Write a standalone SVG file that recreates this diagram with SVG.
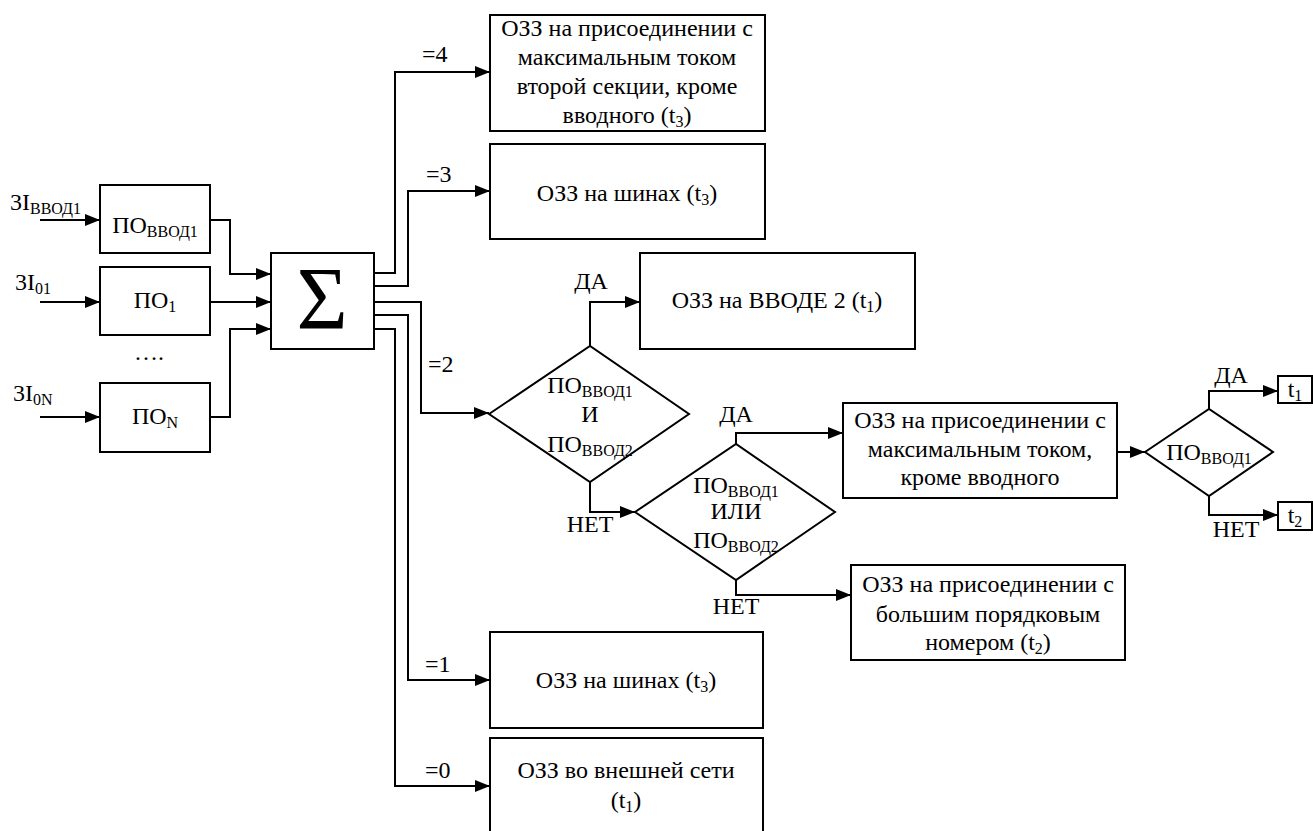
<svg xmlns="http://www.w3.org/2000/svg" width="1313" height="831" viewBox="0 0 1313 831">
<style>
.box{fill:#fff;stroke:#000;stroke-width:2}
.ln{fill:none;stroke:#000;stroke-width:2;marker-end:url(#ah)}
</style>
<defs>
<marker id="ah" markerUnits="userSpaceOnUse" markerWidth="16" markerHeight="12" refX="15" refY="6" orient="auto">
<path d="M0,0 L15,6 L0,12 z" fill="#000"/>
</marker>
</defs>
<rect width="1313" height="831" fill="#fff"/>
<g id="connectors">
<path class="ln" d="M40 220 H100"/>
<path class="ln" d="M40 302 H100"/>
<path class="ln" d="M40 417 H100"/>
<path class="ln" d="M210 220 H230 V274 H271"/>
<path class="ln" d="M210 302 H271"/>
<path class="ln" d="M210 417 H230 V329 H271"/>
<path class="ln" d="M374 273 H395 V72 H490"/>
<path class="ln" d="M374 286 H408 V191 H490"/>
<path class="ln" d="M374 302 H421 V413 H489"/>
<path class="ln" d="M374 315 H408 V680 H490"/>
<path class="ln" d="M374 329 H395 V786 H490"/>
<path class="ln" d="M590 346 V302 H640"/>
<path class="ln" d="M590 482 V512 H635"/>
<path class="ln" d="M736 444 V433 H843"/>
<path class="ln" d="M736 580 V595 H851"/>
<path class="ln" d="M1117 452 H1145"/>
<path class="ln" d="M1209 409 V391 H1278"/>
<path class="ln" d="M1209 496 V515 H1278"/>
<text style="font-family:'Liberation Serif',serif;font-size:24px" x="422" y="62">=4</text>
<text style="font-family:'Liberation Serif',serif;font-size:24px" x="426" y="182">=3</text>
<text style="font-family:'Liberation Serif',serif;font-size:24px" x="428" y="372">=2</text>
<text style="font-family:'Liberation Serif',serif;font-size:24px" x="425" y="672">=1</text>
<text style="font-family:'Liberation Serif',serif;font-size:24px" x="425" y="778">=0</text>
<text style="font-family:'Liberation Serif',serif;font-size:24px" text-anchor="middle" x="591" y="289">ДА</text>
<text style="font-family:'Liberation Serif',serif;font-size:24px" text-anchor="middle" x="590" y="532">НЕТ</text>
<text style="font-family:'Liberation Serif',serif;font-size:24px" text-anchor="middle" x="736" y="422">ДА</text>
<text style="font-family:'Liberation Serif',serif;font-size:24px" text-anchor="middle" x="736" y="614">НЕТ</text>
<text style="font-family:'Liberation Serif',serif;font-size:24px" text-anchor="middle" x="1231" y="383">ДА</text>
<text style="font-family:'Liberation Serif',serif;font-size:24px" text-anchor="middle" x="1236" y="537">НЕТ</text>
</g>
<g id="inputs">
<text style="font-family:'Liberation Serif',serif;font-size:24px" x="10" y="210">3I<tspan style="font-size:16px" dy="4">ВВОД1</tspan></text>
<text style="font-family:'Liberation Serif',serif;font-size:24px" x="15" y="290">3I<tspan style="font-size:16px" dy="4">01</tspan></text>
<text style="font-family:'Liberation Serif',serif;font-size:24px" x="13" y="401">3I<tspan style="font-size:16px" dy="4">0N</tspan></text>
<text style="font-family:'Liberation Serif',serif;font-size:24px" text-anchor="middle" x="149" y="360">….</text>
</g>
<g id="po-vvod1">
<rect class="box" x="100" y="185" width="110" height="68"/>
<text style="font-family:'Liberation Serif',serif;font-size:24px" text-anchor="middle" x="155" y="233">ПО<tspan style="font-size:16px" dy="4">ВВОД1</tspan></text>
</g>
<g id="po-1">
<rect class="box" x="100" y="267" width="110" height="68"/>
<text style="font-family:'Liberation Serif',serif;font-size:24px" text-anchor="middle" x="155" y="308">ПО<tspan style="font-size:16px" dy="4">1</tspan></text>
</g>
<g id="po-n">
<rect class="box" x="100" y="383" width="110" height="69"/>
<text style="font-family:'Liberation Serif',serif;font-size:24px" text-anchor="middle" x="155" y="424">ПО<tspan style="font-size:16px" dy="4">N</tspan></text>
</g>
<g id="sum">
<rect class="box" x="271" y="253" width="103" height="96"/>
<text style="font-family:'Liberation Serif',serif;font-size:88px" text-anchor="middle" x="322" y="328">Σ</text>
</g>
<g id="box-4">
<rect class="box" x="490" y="15" width="275" height="116"/>
<text style="font-family:'Liberation Serif',serif;font-size:24px" text-anchor="middle" x="627" y="36">ОЗЗ на присоединении с</text>
<text style="font-family:'Liberation Serif',serif;font-size:24px" text-anchor="middle" x="627" y="65">максимальным током</text>
<text style="font-family:'Liberation Serif',serif;font-size:24px" text-anchor="middle" x="627" y="94">второй секции, кроме</text>
<text style="font-family:'Liberation Serif',serif;font-size:24px" text-anchor="middle" x="627" y="123">вводного (t<tspan style="font-size:16px" dy="4">3</tspan><tspan dy="-4">)</tspan></text>
</g>
<g id="box-3">
<rect class="box" x="490" y="144" width="275" height="95"/>
<text style="font-family:'Liberation Serif',serif;font-size:24px" text-anchor="middle" x="627" y="201">ОЗЗ на шинах (t<tspan style="font-size:16px" dy="4">3</tspan><tspan dy="-4">)</tspan></text>
</g>
<g id="box-vvod2">
<rect class="box" x="640" y="253" width="275" height="96"/>
<text style="font-family:'Liberation Serif',serif;font-size:24px" text-anchor="middle" x="777" y="308">ОЗЗ на ВВОДЕ 2 (t<tspan style="font-size:16px" dy="4">1</tspan><tspan dy="-4">)</tspan></text>
</g>
<g id="diamond-and">
<polygon class="box" points="489,414 590,346 689,414 590,482"/>
<text style="font-family:'Liberation Serif',serif;font-size:24px" text-anchor="middle" x="590" y="393">ПО<tspan style="font-size:16px" dy="4">ВВОД1</tspan></text>
<text style="font-family:'Liberation Serif',serif;font-size:24px" text-anchor="middle" x="590" y="422">И</text>
<text style="font-family:'Liberation Serif',serif;font-size:24px" text-anchor="middle" x="590" y="452">ПО<tspan style="font-size:16px" dy="4">ВВОД2</tspan></text>
</g>
<g id="diamond-or">
<polygon class="box" points="635,512 736,444 835,512 736,580"/>
<text style="font-family:'Liberation Serif',serif;font-size:24px" text-anchor="middle" x="736" y="493">ПО<tspan style="font-size:16px" dy="4">ВВОД1</tspan></text>
<text style="font-family:'Liberation Serif',serif;font-size:24px" text-anchor="middle" x="736" y="519">ИЛИ</text>
<text style="font-family:'Liberation Serif',serif;font-size:24px" text-anchor="middle" x="736" y="548">ПО<tspan style="font-size:16px" dy="4">ВВОД2</tspan></text>
</g>
<g id="box-max">
<rect class="box" x="843" y="403" width="274" height="95"/>
<text style="font-family:'Liberation Serif',serif;font-size:24px" text-anchor="middle" x="980" y="428">ОЗЗ на присоединении с</text>
<text style="font-family:'Liberation Serif',serif;font-size:24px" text-anchor="middle" x="980" y="457">максимальным током,</text>
<text style="font-family:'Liberation Serif',serif;font-size:24px" text-anchor="middle" x="980" y="485">кроме вводного</text>
</g>
<g id="diamond-vvod1">
<polygon class="box" points="1145,452 1209,409 1273,452 1209,496"/>
<text style="font-family:'Liberation Serif',serif;font-size:24px" text-anchor="middle" x="1209" y="460">ПО<tspan style="font-size:16px" dy="4">ВВОД1</tspan></text>
</g>
<g id="box-t1">
<rect class="box" x="1278" y="376" width="34" height="27"/>
<text style="font-family:'Liberation Serif',serif;font-size:24px" text-anchor="middle" x="1295" y="397">t<tspan style="font-size:16px" dy="4">1</tspan></text>
</g>
<g id="box-t2">
<rect class="box" x="1278" y="502" width="34" height="28"/>
<text style="font-family:'Liberation Serif',serif;font-size:24px" text-anchor="middle" x="1295" y="523">t<tspan style="font-size:16px" dy="4">2</tspan></text>
</g>
<g id="box-bigger">
<rect class="box" x="851" y="565" width="274" height="95"/>
<text style="font-family:'Liberation Serif',serif;font-size:24px" text-anchor="middle" x="988" y="592">ОЗЗ на присоединении с</text>
<text style="font-family:'Liberation Serif',serif;font-size:24px" text-anchor="middle" x="988" y="622">большим порядковым</text>
<text style="font-family:'Liberation Serif',serif;font-size:24px" text-anchor="middle" x="988" y="650">номером (t<tspan style="font-size:16px" dy="4">2</tspan><tspan dy="-4">)</tspan></text>
</g>
<g id="box-1">
<rect class="box" x="490" y="632" width="273" height="96"/>
<text style="font-family:'Liberation Serif',serif;font-size:24px" text-anchor="middle" x="626" y="688">ОЗЗ на шинах (t<tspan style="font-size:16px" dy="4">3</tspan><tspan dy="-4">)</tspan></text>
</g>
<g id="box-0">
<rect class="box" x="490" y="738" width="273" height="100"/>
<text style="font-family:'Liberation Serif',serif;font-size:24px" text-anchor="middle" x="626" y="778">ОЗЗ во внешней сети</text>
<text style="font-family:'Liberation Serif',serif;font-size:24px" text-anchor="middle" x="626" y="808">(t<tspan style="font-size:16px" dy="4">1</tspan><tspan dy="-4">)</tspan></text>
</g>
</svg>
